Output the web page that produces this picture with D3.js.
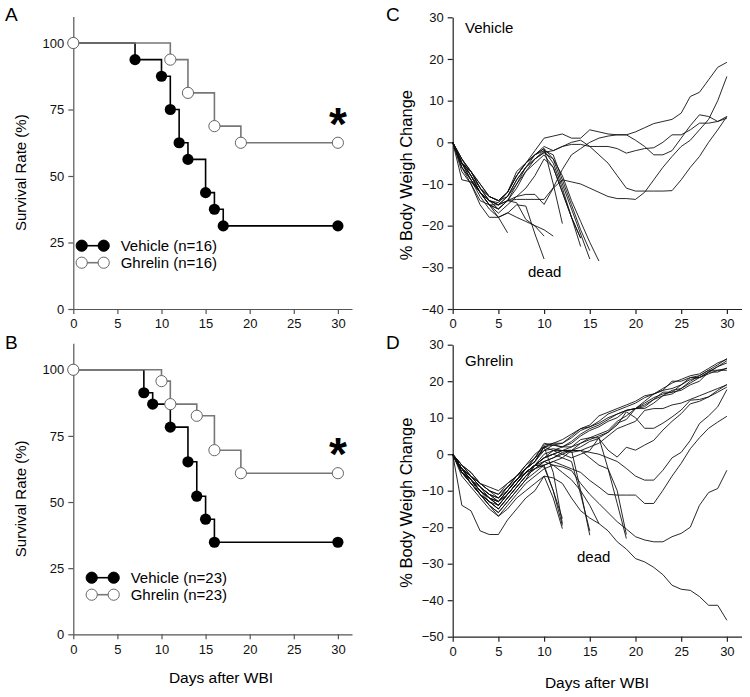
<!DOCTYPE html>
<html><head><meta charset="utf-8">
<script src="https://cdn.jsdelivr.net/npm/d3@7"></script>
<style>
body{margin:0;background:#fff;}
svg{display:block;font-family:"Liberation Sans",Arial,sans-serif;}
</style></head>
<body><svg id="c" width="750" height="697"></svg>
<script>
// ---------- DATA ----------
const xTicks = [0,5,10,15,20,25,30];
const survTicks = [0,25,50,75,100];
const weightTicksC = [-40,-30,-20,-10,0,10,20,30];
const weightTicksD = [-50,-40,-30,-20,-10,0,10,20,30];

// Panel A survival (day, %)
const survA_vehicle = [[0,100],[7,93.75],[10,87.5],[11,75],[12,62.5],[13,56.25],[15,43.75],[16,37.5],[17,31.25],[30,31.25]];
const survA_ghrelin = [[0,100],[11,93.75],[13,81.25],[16,68.75],[19,62.5],[30,62.5]];
// Panel B survival
const survB_vehicle = [[0,100],[8,91.3],[9,87],[11,78.3],[13,65.2],[14,52.2],[15,43.5],[16,34.8],[30,34.8]];
const survB_ghrelin = [[0,100],[10,95.7],[11,87],[14,82.6],[16,69.6],[19,60.9],[30,60.9]];

const legendA = ["Vehicle (n=16)","Ghrelin (n=16)"];
const legendB = ["Vehicle (n=23)","Ghrelin (n=23)"];

// Panel C: vehicle body weight change (% per day from day 0)
const weightVehicle = [
 [0,-4,-7,-11,-13,-14,-12,-7,-5,-2,1,1.5,2,1,1,3,2.5,2,1.8,1.8,2.5,3.5,4.5,5,5.5,7,11,12,15,18,19.2],
 [0,-5,-8,-12,-15,-16,-14,-13,-12.5,-12.5,-14.9,-11,-9,-9.5,-10,-11,-12,-13,-13.5,-13.5,-13.7,-12,-9,-6,-3.4,-1,0.5,3,5.5,10,15.8],
 [0,-6,-9,-12,-14,-15,-14,-10,-6,-3,-1,-2,-1,0,0.5,-1,-3,-5,-8,-11,-11.7,-11.7,-11.7,-11.7,-11.6,-9,-6,-3.4,0,3,6.2],
 [0,-5,-7,-10,-13,-14,-13,-9,-6,-4,-2.4,-2,-1,-0.5,-0.5,-1,-1,-1,-1.5,-2.6,-2,-1.5,-1.3,0,1.8,1.8,3,4.6,4.6,5,5.8],
 [0,-5,-9,-12,-15,-16,-14,-13.7,-13.7,-13.7,-13.7,-10.9,-6.5,-3,-1.5,0,1,1.5,1.8,1.8,0.5,-1,-3,-3,-2,1,4,6.6,6.2,5,6.2],
 [0,-6,-10,-14,-15,-18,-21.7],
 [0,-5,-9,-13,-16,-18,-17,-15,-15.3,-22,-28],
 [0,-4,-8,-12,-14,-15,-14,-14.5,-18.5,-20.1,-22.5],
 [0,-7,-10,-15,-18,-18,-16.9,-18,-19,-20,-21,-22.5],
 [0,-5,-8,-12,-14,-14.5,-12,-8,-5,-3,-1.5,-10,-19.5],
 [0,-5,-7,-11,-14,-15,-13,-10,-7,-5,-3,-6,-12,-18,-23],
 [0,-6,-9,-12,-15,-15,-13,-9,-6,-4,-2,-5,-11,-18,-25],
 [0,-4,-7,-10,-13,-14,-12,-8,-5,-3,-1.5,-4,-10,-16,-22,-28],
 [0,-5,-8,-11,-13,-14,-12,-8,-5,-3,-2,-3,-9,-15,-21,-26],
 [0,-5,-7,-11,-14,-16,-14,-11,-7,-4,-2.5,-4,-8,-14,-19,-24,-28.5],
 [0,-9,-9.5,-12,-15,-17,-15,-13,-11,-8,-4,-6,-12,-18,-23]
];

// Panel D: ghrelin body weight change
const weightGhrelin = [
 [0,-3,-5,-8,-9,-10,-8,-6,-3,-1,2.5,3,4,5.5,7,8,10.5,11.5,12.5,13.5,14.5,16,16.5,17.5,20,20,21,21.5,23,24.5,26.2],
 [0,-3,-6,-8,-10,-11,-8,-6,-4,-2,2,2.5,3,4.5,6.5,7.5,8.5,10,11,12,12.5,12.5,14,16,16.5,18,20,21.5,23,23,23],
 [0,-4,-6,-9,-11,-12,-10,-7,-4,-2,2,1,1,1,3,4.5,5.5,6.5,9,10.5,12.5,13,15,17,17,17.5,19,20,22.5,24,25.6],
 [0,-4,-7,-10,-12,-13,-11,-8,-5,-3,0,1,0,-1,0,1,4.5,6,8.5,9.5,12.5,14.5,16.5,17.5,18,19,21,21,22.5,22.5,23.6],
 [0,-4,-6,-9,-11,-12,-9,-7,-5,-3,-1,1,2,2,3,4,5,6,8,11.6,10,7.1,7.1,8.5,10.2,12.1,14.8,15,15.7,17,18.4],
 [0,-4,-7,-10,-12,-14,-11,-8,-5,-4,-2,-1,0,1,2,3.5,4.3,1.1,-0.8,1.9,1.1,2.5,3.8,6.6,9,11.1,13.8,14.5,15.7,17.5,19.1],
 [0,-5,-7,-10,-13,-15,-12,-9,-6,-4,-3,-2,-1,1,1,0.5,0,-1,-2,-3.9,-6,-7.1,-7.1,-4.4,-1,0.5,3.8,8.4,10.5,13,17.7],
 [0,-5,-8,-11,-14,-16,-13,-10,-7,-5,-3,-2,-3,-4,-5,-7.2,-9,-11,-11.2,-11.2,-11.2,-13.5,-13.5,-9.9,-6,-2.5,1.5,4.5,7.1,8.8,10.4],
 [0,-6,-9,-12,-15,-17,-14,-11,-8,-6,-4,-3,-3.5,-4.5,-8,-11,-13.5,-16,-18.5,-20.5,-22.6,-23.5,-24,-24,-22.6,-21.7,-20,-14,-10.5,-9.4,-4.4],
 [0,-4,-7,-11,-14,-17,-15,-12,-10,-8,-6,-6.5,-8,-12,-15.5,-17.5,-19,-21,-24,-26,-28.6,-29.5,-31,-33,-35.9,-37,-37.3,-39,-41.4,-41.4,-45.5],
 [0,-3,-5,-8,-10,-11,-9,-6,-3,0,2,3,3,5,7,7.5,9,11,12,13,14,15.5,16.5,18,19.5,20.5,21.5,22,23.5,25,26],
 [0,-4,-6,-9,-11,-13,-10,-7,-4,-2,1,2.5,2,3,5,6.5,7.5,9,10,12,12.5,14,15.5,16.5,17,19,20.5,21,22,23,23.5],
 [0,-4,-7,-9,-12,-14,-11,-8,-5,-3,-1,0,1,0.5,1,2,3,5,7,8,9,12,12.5,12.5,13.5,14,15,16,17,18,19],
 [0,-3,-6,-8,-10,-12,-9,-6,-4,-1,3,2.5,2,3.5,5.5,7,8,9.5,11,12,12.5,13.5,15,16,17.5,18,19.5,21,22.5,24,25],
 [0,-4,-8,-11,-13,-14,-11,-8,-5,-3,-3,-10,-17.6],
 [0,-5,-7,-10,-12,-13,-10,-7,-4,-2,2,-5,-19],
 [0,-14,-15.5,-21,-22,-22,-18,-15,-12,-10,-6,-12,-20.4],
 [0,-5,-8,-11,-14,-16,-13,-10,-7,-3,-3.5,-10,-19.5],
 [0,-4,-6,-9,-11,-13,-10,-7,-4,-1,1,1.5,1,1.1,-10,-22.2],
 [0,-5,-7,-10,-12,-14,-11,-8,-5,-3,-1,0,-1,-2,-11,-21],
 [0,-5,-8,-11,-13,-15,-12,-9,-6,-3,-1,0,1,2,4,4.5,4.5,-4,-13.5,-23.1],
 [0,-4,-7,-10,-12,-13,-10,-7,-5,-3,-2,-3,-5,-7,-10,-14,-19],
 [0,-5,-8,-11,-13,-15,-12,-9,-6,-4,-2,-1,0.5,1,1,-1,-3,-4,-10,-22]
];

// ---------- DRAW ----------
const svg = d3.select("#c");
const F = '"Liberation Sans",Arial,sans-serif';

function axes(g, x, y, yTicks, axisColor){
  const xa = g.append("g").attr("transform",`translate(0,${y.range()[0]})`)
    .call(d3.axisBottom(x).tickValues(xTicks).tickSize(5).tickSizeOuter(0).tickPadding(5));
  const ya = g.append("g").attr("transform",`translate(${x.range()[0]},0)`)
    .call(d3.axisLeft(y).tickValues(yTicks).tickSize(5).tickSizeOuter(0).tickPadding(4));
  [xa,ya].forEach(a=>{
    a.selectAll("path,line").attr("stroke",axisColor).attr("stroke-width",1.2);
    a.selectAll("text").attr("font-size",13).attr("font-family",F).attr("fill","#111");
  });
  return {xa,ya};
}

function survivalPanel(top, bottom, vData, gData, legend, legY, legX, letter, letterY){
  const x = d3.scaleLinear().domain([0,31.6]).range([73.3,352]);
  const y = d3.scaleLinear().domain([0,110]).range([bottom, top]);
  const g = svg.append("g");
  axes(g,x,y,survTicks,"#555");
  const line = d3.line().x(d=>x(d[0])).y(d=>y(d[1])).curve(d3.curveStepAfter);
  g.append("path").attr("d",line(vData)).attr("fill","none").attr("stroke","#000").attr("stroke-width",1.6);
  g.selectAll("circle.v").data(vData).join("circle").attr("class","v")
    .attr("cx",d=>x(d[0])).attr("cy",d=>y(d[1])).attr("r",5.6).attr("fill","#000");
  g.append("path").attr("d",line(gData)).attr("fill","none").attr("stroke","#777").attr("stroke-width",1.6);
  g.selectAll("circle.g").data(gData).join("circle").attr("class","g")
    .attr("cx",d=>x(d[0])).attr("cy",d=>y(d[1])).attr("r",5.6).attr("fill","#fff").attr("stroke","#666").attr("stroke-width",1);
  // asterisk
  const last = gData[gData.length-1];
  g.append("text").attr("x",x(last[0])).attr("y",y(last[1])-3).attr("text-anchor","middle")
    .attr("font-size",46).attr("font-weight","bold").attr("font-family",F).text("*");
  // legend
  legend.forEach((t,i)=>{
    const ly = legY + i*17;
    const filled = i===0;
    g.append("line").attr("x1",legX).attr("x2",legX+22).attr("y1",ly).attr("y2",ly)
      .attr("stroke",filled?"#000":"#777").attr("stroke-width",1.6);
    [legX,legX+22].forEach(cx=>g.append("circle").attr("cx",cx).attr("cy",ly).attr("r",5.6)
      .attr("fill",filled?"#000":"#fff").attr("stroke",filled?"#000":"#666").attr("stroke-width",1));
    g.append("text").attr("x",legX+39).attr("y",ly+5.5).attr("font-size",15).attr("font-family",F).text(t);
  });
  g.append("text").attr("x",5).attr("y",letterY).attr("font-size",19).attr("font-family",F).text(letter);
  g.append("text").attr("transform",`translate(26,${(top+bottom)/2+10}) rotate(-90)`).attr("text-anchor","middle")
    .attr("font-size",15).attr("font-family",F).text("Survival Rate (%)");
  return x;
}

function weightPanel(yDom, top, bottom, yTicks, data, label, labelY, deadX, deadY, letter, letterY){
  const x = d3.scaleLinear().domain([0,31.6]).range([452.7,741.5]);
  const y = d3.scaleLinear().domain(yDom).range([bottom, top]);
  const g = svg.append("g");
  axes(g,x,y,yTicks,"#222");
  const line = d3.line().x((d,i)=>x(i)).y(d=>y(d));
  g.selectAll("path.w").data(data).join("path").attr("class","w")
    .attr("d",d=>line(d)).attr("fill","none").attr("stroke","#111").attr("stroke-width",0.9);
  g.append("text").attr("x",465).attr("y",labelY).attr("font-size",15).attr("font-family",F).text(label);
  g.append("text").attr("x",deadX).attr("y",deadY).attr("font-size",15).attr("font-family",F).text("dead");
  g.append("text").attr("x",386).attr("y",letterY).attr("font-size",19).attr("font-family",F).text(letter);
  g.append("text").attr("transform",`translate(412,${(top+bottom)/2+12}) rotate(-90)`).attr("text-anchor","middle")
    .attr("font-size",16.5).attr("font-family",F).text("% Body Weigh Change");
  return x;
}

survivalPanel(16.4, 309, survA_vehicle, survA_ghrelin, legendA, 245.7, 81.7, "A", 21);
survivalPanel(343.3, 634.3, survB_vehicle, survB_ghrelin, legendB, 577.7, 91.7, "B", 349);
weightPanel([-40,30], 17.3, 309, weightTicksC, weightVehicle, "Vehicle", 33, 528, 277, "C", 21);
weightPanel([-50,30], 344.7, 636.7, weightTicksD, weightGhrelin, "Ghrelin", 366, 577, 562, "D", 349);

svg.append("text").attr("x",221).attr("y",683).attr("text-anchor","middle").attr("font-size",15.5).attr("font-family",F).text("Days after WBI");
svg.append("text").attr("x",597).attr("y",688).attr("text-anchor","middle").attr("font-size",15.5).attr("font-family",F).text("Days after WBI");
</script></body></html>
